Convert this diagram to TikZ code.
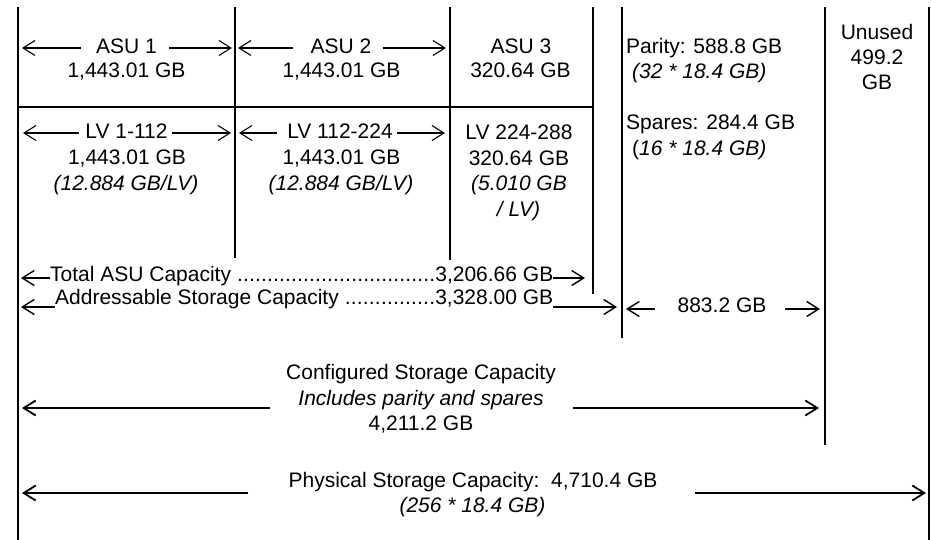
\documentclass[tikz,border=0pt]{standalone}
\usepackage{fontspec}
\setmainfont{Liberation Sans}
\usetikzlibrary{arrows.meta,calc}
% a label, a row of dots and a value, set in a box of given width
\newcommand\dotrow[3]{\hbox to #1{#2 \xleaders\hbox to 0.278em{\hss.\hss}\hfill #3}}

\begin{document}
\begin{tikzpicture}[x=1pt,y=-1pt,
  >={Straight Barb[length=12pt,width=15pt]},
  every node/.style={font=\fontsize{21}{25}\selectfont, inner sep=0pt, anchor=base},
  it/.style={font=\fontsize{21}{25}\selectfont\itshape},
  wall/.style={line width=2pt},
  heavywall/.style={line width=2.8pt},
  thinarrow/.style={line width=1.1pt},
  midarrow/.style={line width=1.4pt},
  widearrow/.style={line width=1.8pt}]

\fill[white] (0,0) rectangle (931,540);
\useasboundingbox (0,0) rectangle (931,540);

% vertical separators
\coordinate (w0t) at (18,7);  \coordinate (w0b) at (18,540);
\coordinate (w1t) at (235,7); \coordinate (w1b) at (235,258);
\coordinate (w2t) at (450,7); \coordinate (w2b) at (450,260);
\coordinate (w3t) at (593,7); \coordinate (w3b) at (593,294);
\coordinate (w4t) at (622,7); \coordinate (w4b) at (622,338);
\coordinate (w5t) at (825,7); \coordinate (w5b) at (825,445);
\coordinate (w6t) at (929,7); \coordinate (w6b) at (929,540);
\coordinate (hl)  at (18,107);

\draw[heavywall] (w0t) -- (w0b);
\draw[wall] (w1t) -- (w1b);
\draw[wall] (w2t) -- (w2b);
\draw[wall] (w3t) -- (w3b);
\draw[heavywall] (w4t) -- (w4b);
\draw[heavywall] (w5t) -- (w5b);
\draw[heavywall] (w6t) -- (w6b);
\draw[wall] (hl) -- (hl -| w3t);

% ASU row
\node (asu1) at (126.5,53.5) {ASU 1};
\node (asu1v) at (126.5,77.5) {1,443.01 GB};
\draw[thinarrow,->] ([xshift=-15pt,yshift=5.5pt]asu1.base west) -- ($(asu1.base west -| w0t)+(4pt,5.5pt)$);
\draw[thinarrow,->] ([xshift=12pt,yshift=5.5pt]asu1.base east) -- ($(asu1.base east -| w1t)+(-3pt,5.5pt)$);

\node (asu2) at (341,53.5) {ASU 2};
\node (asu2v) at (341.5,77.5) {1,443.01 GB};
\draw[thinarrow,->] ([xshift=-17pt,yshift=5.5pt]asu2.base west) -- ($(asu2.base west -| w1t)+(3pt,5.5pt)$);
\draw[thinarrow,->] ([xshift=11pt,yshift=5.5pt]asu2.base east) -- ($(asu2.base east -| w2t)+(-4pt,5.5pt)$);

\node (asu3) at (521,53.5) {ASU 3};
\node (asu3v) at (520.5,77.5) {320.64 GB};

% LV row
\node (lv1) at (126.5,139) {LV 1-112};
\node (lv1v) at (127,165) {1,443.01 GB};
\node[it] (lv1r) at (126,190) {(12.884 GB/LV)};
\draw[thinarrow,->] ([xshift=-6pt,yshift=6pt]lv1.base west) -- ($(lv1.base west -| w0t)+(5pt,6pt)$);
\draw[thinarrow,->] ([xshift=4pt,yshift=6pt]lv1.base east) -- ($(lv1.base east -| w1t)+(-4pt,6pt)$);

\node (lv2) at (340,139) {LV 112-224};
\node (lv2v) at (341.5,165) {1,443.01 GB};
\node[it] (lv2r) at (341,190) {(12.884 GB/LV)};
\draw[thinarrow,->] ([xshift=-10.5pt,yshift=6pt]lv2.base west) -- ($(lv2.base west -| w1t)+(4pt,6pt)$);
\draw[thinarrow,->] ([xshift=4.5pt,yshift=6pt]lv2.base east) -- ($(lv2.base east -| w2t)+(-5pt,6pt)$);

\node (lv3) at (519,140) {LV 224-288};
\node (lv3v) at (519,166) {320.64 GB};
\node[it] (lv3r) at (519,191) {(5.010 GB};
\node[it] (lv3s) at (518.5,216) {/ LV)};

% parity and spares
\node[anchor=base west] (par) at (626,54) {Parity: 588.8 GB};
\node[anchor=base west,it] (parn) at (632,79) {(32 * 18.4 GB)};
\node[anchor=base west] (spa) at (626,130) {Spares: 284.4 GB};
\node[anchor=base west] (span) at (632,156) {(\textit{16 * 18.4 GB)}};

% unused column
\node (un1) at (877,40) {Unused};
\node (un2) at (877,65) {499.2};
\node (un3) at (877,90) {GB};

% totals
\node[anchor=base west] (tot) at (50,281) {\dotrow{503pt}{Total ASU Capacity}{3,206.66 GB}};
\draw[midarrow,->] ([yshift=3pt]tot.base west) -- ($(tot.base west -| w0t)+(3pt,3pt)$);
\draw[midarrow,->] ([yshift=3pt]tot.base east) -- ($(tot.base east -| w3t)+(-8pt,3pt)$);

\node[anchor=base west] (adr) at (55,304) {\dotrow{498pt}{Addressable Storage Capacity}{3,328.00 GB}};
\draw[midarrow,->] ([yshift=-3pt]adr.base west) -- ($(adr.base west -| w0t)+(3pt,-3pt)$);
\draw[midarrow,->] ([yshift=-3pt]adr.base east) -- ($(adr.base east -| w4t)+(-5pt,-3pt)$);

\node (ps) at (722,312) {883.2 GB};
\draw[midarrow,->] ([xshift=-22.5pt,yshift=3pt]ps.base west) -- ($(ps.base west -| w4t)+(4pt,3pt)$);
\draw[midarrow,->] ([xshift=18.5pt,yshift=3pt]ps.base east) -- ($(ps.base east -| w5t)+(-5pt,3pt)$);

% configured capacity
\node (cf1) at (421,379) {Configured Storage Capacity};
\node[it] (cf2) at (421,405) {Includes parity and spares};
\node (cf3) at (421,430) {4,211.2 GB};
\draw[widearrow,->] ([xshift=-28.5pt,yshift=-3pt]cf2.base west) -- ($(cf2.base west -| w0t)+(4pt,-3pt)$);
\draw[widearrow,->] ([xshift=29.5pt,yshift=-3pt]cf2.base east) -- ($(cf2.base east -| w5t)+(-6pt,-3pt)$);

% physical capacity
\node (ph1) at (473,487) {Physical Storage Capacity:\ \ 4,710.4 GB};
\node[it] (ph2) at (472.5,512) {(256 * 18.4 GB)};
\draw[widearrow,->] ([xshift=-40pt,yshift=-6pt]ph1.base west) -- ($(ph1.base west -| w0t)+(4pt,-6pt)$);
\draw[widearrow,->] ([xshift=37.5pt,yshift=-6pt]ph1.base east) -- ($(ph1.base east -| w6t)+(-3pt,-6pt)$);

\end{tikzpicture}
\end{document}
